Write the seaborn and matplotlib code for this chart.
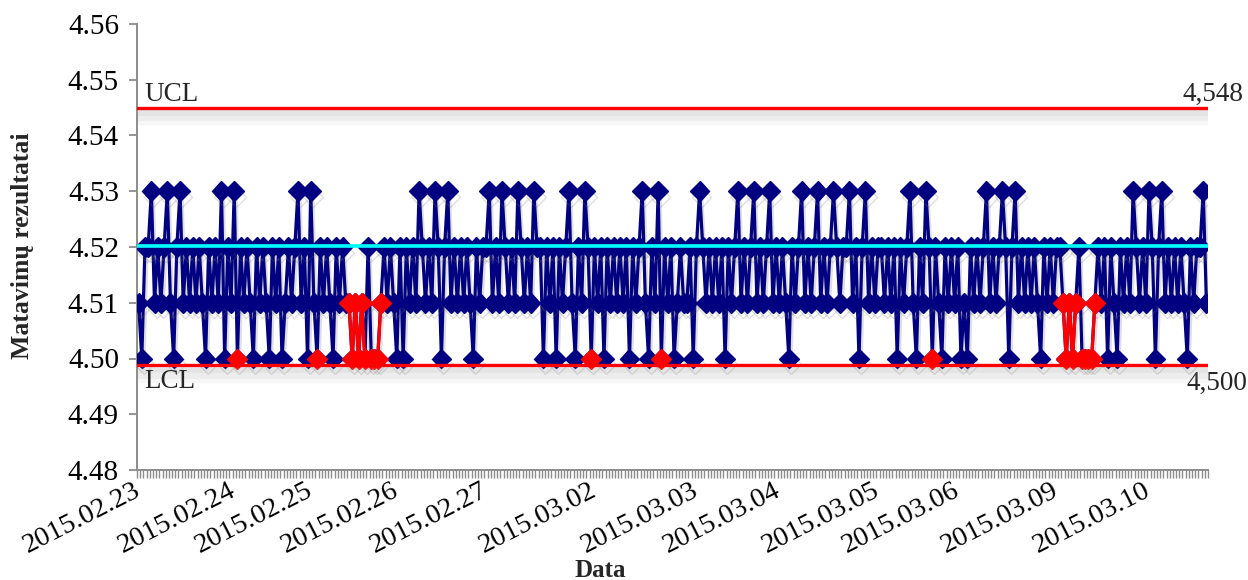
import numpy as np
import pandas as pd
import matplotlib
matplotlib.use("Agg")
import matplotlib.pyplot as plt
import matplotlib.patheffects as pe
import matplotlib.transforms as mtransforms
import seaborn as sns

# ---- data -------------------------------------------------------------
values = [
    4.51, 4.50, 4.52, 4.52, 4.53, 4.51, 4.52, 4.51, 4.52, 4.53,
    4.51, 4.50, 4.52, 4.53, 4.51, 4.52, 4.51, 4.52, 4.51, 4.52,
    4.51, 4.50, 4.52, 4.51, 4.52, 4.51, 4.53, 4.50, 4.52, 4.51,
    4.53, 4.50, 4.52, 4.51, 4.52, 4.51, 4.50, 4.52, 4.51, 4.52,
    4.51, 4.50, 4.52, 4.51, 4.52, 4.50, 4.51, 4.52, 4.51, 4.52,
    4.53, 4.51, 4.52, 4.50, 4.53, 4.51, 4.50, 4.52, 4.51, 4.52,
    4.51, 4.50, 4.52, 4.51, 4.52, 4.51, 4.51, 4.50, 4.51, 4.50,
    4.51, 4.50, 4.52, 4.50, 4.50, 4.50, 4.51, 4.52, 4.51, 4.52,
    4.51, 4.50, 4.52, 4.50, 4.52, 4.51, 4.52, 4.51, 4.53, 4.52,
    4.51, 4.52, 4.51, 4.53, 4.52, 4.50, 4.52, 4.53, 4.51, 4.52,
    4.51, 4.52, 4.51, 4.52, 4.51, 4.50, 4.52, 4.51, 4.52, 4.52,
    4.53, 4.51, 4.52, 4.51, 4.53, 4.52, 4.51, 4.52, 4.51, 4.53,
    4.52, 4.51, 4.52, 4.51, 4.53, 4.52, 4.52, 4.50, 4.52, 4.51,
    4.52, 4.50, 4.52, 4.51, 4.52, 4.53, 4.51, 4.50, 4.52, 4.51,
    4.53, 4.52, 4.50, 4.52, 4.51, 4.52, 4.50, 4.52, 4.51, 4.52,
    4.51, 4.52, 4.51, 4.52, 4.50, 4.52, 4.51, 4.52, 4.53, 4.51,
    4.50, 4.52, 4.51, 4.53, 4.50, 4.52, 4.51, 4.52, 4.50, 4.51,
    4.52, 4.51, 4.51, 4.52, 4.50, 4.52, 4.53, 4.52, 4.51, 4.52,
    4.51, 4.52, 4.51, 4.52, 4.50, 4.52, 4.51, 4.52, 4.53, 4.51,
    4.52, 4.51, 4.52, 4.53, 4.51, 4.52, 4.51, 4.52, 4.53, 4.51,
    4.52, 4.51, 4.52, 4.51, 4.50, 4.52, 4.51, 4.52, 4.53, 4.51,
    4.52, 4.51, 4.52, 4.53, 4.51, 4.52, 4.51, 4.52, 4.53, 4.52,
    4.51, 4.52, 4.52, 4.53, 4.51, 4.52, 4.50, 4.52, 4.53, 4.51,
    4.52, 4.51, 4.52, 4.52, 4.51, 4.52, 4.51, 4.52, 4.50, 4.52,
    4.51, 4.52, 4.53, 4.51, 4.50, 4.52, 4.51, 4.53, 4.52, 4.50,
    4.52, 4.51, 4.50, 4.52, 4.51, 4.52, 4.51, 4.52, 4.50, 4.51,
    4.50, 4.52, 4.51, 4.52, 4.51, 4.52, 4.53, 4.51, 4.52, 4.51,
    4.52, 4.53, 4.52, 4.50, 4.52, 4.53, 4.51, 4.52, 4.51, 4.52,
    4.51, 4.52, 4.51, 4.50, 4.52, 4.51, 4.52, 4.51, 4.52, 4.52,
    4.51, 4.50, 4.51, 4.50, 4.51, 4.52, 4.50, 4.50, 4.50, 4.50,
    4.51, 4.52, 4.51, 4.52, 4.50, 4.52, 4.51, 4.50, 4.52, 4.51,
    4.52, 4.51, 4.53, 4.52, 4.51, 4.52, 4.51, 4.53, 4.52, 4.50,
    4.52, 4.53, 4.51, 4.52, 4.51, 4.52, 4.51, 4.52, 4.51, 4.50,
    4.52, 4.51, 4.52, 4.52, 4.53, 4.51,
]

# points flagged in red (indices into values)
red_points = [31, 56, 66, 67, 68, 69, 70, 71, 73, 74, 75, 76,
              142, 164, 249,
              290, 291, 292, 293, 294, 296, 297, 298, 299, 300]

date_labels = ["2015.02.23", "2015.02.24", "2015.02.25", "2015.02.26",
               "2015.02.27", "2015.03.02", "2015.03.03", "2015.03.04",
               "2015.03.05", "2015.03.06", "2015.03.09", "2015.03.10"]
date_positions = [0, 30, 54, 81, 109, 143, 175, 201, 232, 257, 288, 317]

ucl = 4.545
center = 4.5202
lcl = 4.4988
ucl_text = "4,548"
lcl_text = "4,500"

# ---- styling ----------------------------------------------------------
sns.set_theme(style="white")
plt.rcParams["font.family"] = ["Liberation Serif", "DejaVu Serif"]

n = len(values)
idx = np.arange(n)
df = pd.DataFrame({"i": idx, "v": values})

red_idx = sorted(red_points)
seg = np.cumsum(np.diff([-10] + red_idx) != 1)
red_df = pd.DataFrame({"i": red_idx, "v": [values[k] for k in red_idx], "seg": seg})

fig = plt.figure(figsize=(12.48, 5.8), dpi=100)
ax = fig.add_axes([137 / 1248, 1 - 470 / 580, (1208 - 137) / 1248, (470 - 24) / 580])

navy = "#000080"
shadow = [pe.SimpleLineShadow(offset=(1.5, -4), shadow_color="#707070", alpha=0.22), pe.Normal()]

sns.lineplot(data=df, x="i", y="v", estimator=None, ax=ax, color=navy,
             linewidth=2.3, marker="D", markersize=10, markeredgecolor=navy,
             markeredgewidth=1, path_effects=shadow, zorder=3)

sns.lineplot(data=red_df, x="i", y="v", units="seg", estimator=None, ax=ax,
             color="red", linewidth=2.3, marker="D", markersize=10,
             markeredgecolor="red", markeredgewidth=1, zorder=4)

line_shadow = [
    pe.SimpleLineShadow(offset=(0, -3), shadow_color="#9a9a9a", alpha=0.10, linewidth=5),
    pe.SimpleLineShadow(offset=(0, -5.5), shadow_color="#9a9a9a", alpha=0.10, linewidth=8),
    pe.SimpleLineShadow(offset=(0, -7), shadow_color="#9a9a9a", alpha=0.07, linewidth=11),
    pe.Normal(),
]
ax.axhline(ucl, color="red", linewidth=2.4, zorder=5, path_effects=line_shadow)
ax.axhline(lcl, color="red", linewidth=2.4, zorder=5, path_effects=line_shadow)
ax.axhline(center, color="#00FFFF", linewidth=2.6, zorder=5)

ax.set_xlim(-0.5, n - 0.5)
ax.set_ylim(4.48, 4.56)
yt = np.round(np.arange(4.48, 4.5601, 0.01), 2)
ax.set_yticks(yt)
ax.set_yticklabels([f"{t:.2f}" for t in yt], fontsize=21)

ax.set_xticks(date_positions)
ax.set_xticklabels(date_labels, fontsize=20.5, rotation=27, ha="right",
                   va="center", rotation_mode="anchor")
ax.set_xticks(np.arange(-0.5, n, 1), minor=True)

gray = "#8C8C8C"
for s in ["top", "right"]:
    ax.spines[s].set_visible(False)
for s in ["left", "bottom"]:
    ax.spines[s].set_color(gray)
    ax.spines[s].set_linewidth(1.4)
ax.tick_params(axis="y", which="major", left=True, length=6, width=1.3, color=gray,
               pad=7, labelcolor="black")
ax.tick_params(axis="x", which="major", bottom=True, length=0, pad=14, labelcolor="black")
ax.tick_params(axis="x", which="minor", bottom=True, length=6, width=1.0, color=gray)
ax.grid(False)

ax.set_ylabel("Matavimų rezultatai", fontsize=18.5, fontweight="bold", va="center")
ax.yaxis.set_label_coords(-0.107, 0.504)
ax.set_xlabel("Data", fontsize=18, fontweight="bold", va="center")
ax.xaxis.set_label_coords(0.433, -0.226)

ax.text(1.8, ucl + 0.0001, "UCL", fontsize=19.5, ha="left", va="bottom", zorder=6)
ax.text(1.8, lcl - 0.0006, "LCL", fontsize=19.5, ha="left", va="top", zorder=6)
tr = mtransforms.blended_transform_factory(fig.transFigure, ax.transData)
ax.text(1243 / 1248, ucl + 0.0001, ucl_text, fontsize=19.5, ha="right", va="bottom",
        transform=tr, clip_on=False)
ax.text(1247 / 1248, lcl - 0.0010, lcl_text, fontsize=19.5, ha="right", va="top",
        transform=tr, clip_on=False)

fig.savefig("out.png", dpi=100)
